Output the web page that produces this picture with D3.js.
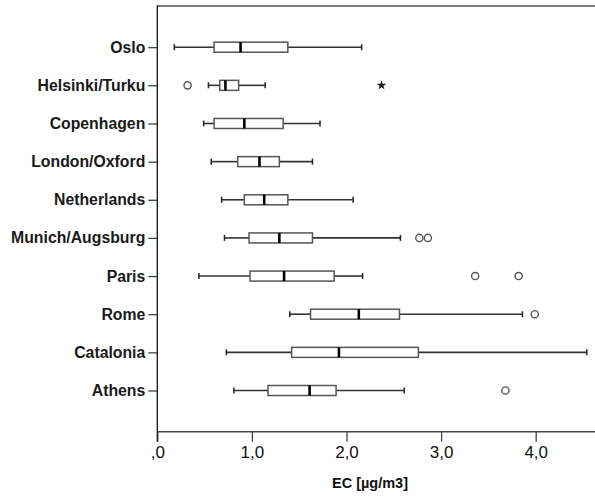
<!DOCTYPE html>
<html>
<head>
<meta charset="utf-8">
<script src="https://cdn.jsdelivr.net/npm/d3@7"></script>
<style>
  html, body { margin: 0; padding: 0; background: #fff; }
  svg { display: block; }
  text { font-family: "Liberation Sans", Arial, sans-serif; fill: #111; }
</style>
</head>
<body>
<svg id="chart" width="595" height="497"></svg>
<script>
// EC concentrations (µg/m3) per study area
const areas = ["Oslo", "Helsinki/Turku", "Copenhagen", "London/Oxford", "Netherlands",
               "Munich/Augsburg", "Paris", "Rome", "Catalonia", "Athens"];
const whiskerLow  = [0.18, 0.54, 0.49, 0.57, 0.68, 0.71, 0.44, 1.40, 0.73, 0.81];
const q1          = [0.60, 0.66, 0.60, 0.85, 0.92, 0.97, 0.98, 1.62, 1.42, 1.17];
const median      = [0.88, 0.72, 0.92, 1.08, 1.13, 1.29, 1.34, 2.13, 1.92, 1.61];
const q3          = [1.38, 0.86, 1.33, 1.29, 1.38, 1.64, 1.87, 2.56, 2.76, 1.89];
const whiskerHigh = [2.16, 1.14, 1.72, 1.64, 2.07, 2.57, 2.17, 3.86, 4.54, 2.61];
// Outliers (circle) and extreme values (star)
const outliers = [
  { area: "Helsinki/Turku", value: 0.32 },
  { area: "Munich/Augsburg", value: 2.77 },
  { area: "Munich/Augsburg", value: 2.86 },
  { area: "Paris", value: 3.36 },
  { area: "Paris", value: 3.82 },
  { area: "Rome", value: 3.99 },
  { area: "Athens", value: 3.68 }
];
const extremes = [
  { area: "Helsinki/Turku", value: 2.37 }
];
const xTicks = [0, 1, 2, 3, 4];
const xTickLabels = [",0", "1,0", "2,0", "3,0", "4,0"];
const xTitle = "EC [µg/m3]";

const svg = d3.select("#chart");
const plotLeft = 157.3, plotRight = 595, plotTop = 6, plotBottom = 431.7;

const x = d3.scaleLinear().domain([0, 4]).range([plotLeft, plotLeft + 4 * 94.6]);
const y = d3.scalePoint().domain(areas).range([plotTop, plotBottom]).padding(1.08);

const rows = areas.map((a, i) => ({
  area: a, lo: whiskerLow[i], q1: q1[i], med: median[i], q3: q3[i], hi: whiskerHigh[i]
}));

// frame: top border
svg.append("line")
  .attr("x1", plotLeft).attr("x2", plotRight).attr("y1", plotTop).attr("y2", plotTop)
  .attr("stroke", "#555").attr("stroke-width", 1.6);

// bottom axis
const xAxis = d3.axisBottom(x)
  .tickValues(xTicks)
  .tickFormat((d, i) => xTickLabels[i])
  .tickSize(10)
  .tickSizeOuter(0);
const gx = svg.append("g").attr("transform", `translate(0,${plotBottom})`).call(xAxis);
gx.select(".domain").remove();
gx.selectAll(".tick line").attr("stroke", "#444").attr("stroke-width", 1.3);
gx.selectAll(".tick text")
  .attr("y", 14).attr("dy", "0.71em")
  .style("font-size", "17px").style("fill", "#111");
svg.append("line")
  .attr("x1", plotLeft).attr("x2", plotRight).attr("y1", plotBottom).attr("y2", plotBottom)
  .attr("stroke", "#444").attr("stroke-width", 1.4);

// left axis
const yAxis = d3.axisLeft(y).tickSize(9).tickSizeOuter(0).tickPadding(3);
const gy = svg.append("g").attr("transform", `translate(${plotLeft},0)`).call(yAxis);
gy.select(".domain").remove();
gy.selectAll(".tick line").attr("stroke", "#333").attr("stroke-width", 1.2);
gy.selectAll(".tick text")
  .style("font-size", "15.8px").style("font-weight", "bold").style("fill", "#1a1a1a");
svg.append("line")
  .attr("x1", plotLeft).attr("x2", plotLeft).attr("y1", plotTop - 0.8).attr("y2", plotBottom + 10)
  .attr("stroke", "#222").attr("stroke-width", 1.4);

// axis title
svg.append("text")
  .attr("x", 370).attr("y", 488)
  .attr("text-anchor", "middle")
  .style("font-size", "14.5px").style("font-weight", "bold")
  .text(xTitle);

// boxes
const boxH = 10, capH = 6;
const g = svg.append("g");
const box = g.selectAll("g.box").data(rows).join("g").attr("class", "box");

box.append("line")
  .attr("x1", d => x(d.lo)).attr("x2", d => x(d.q1))
  .attr("y1", d => y(d.area)).attr("y2", d => y(d.area))
  .attr("stroke", "#333").attr("stroke-width", 1.6);
box.append("line")
  .attr("x1", d => x(d.q3)).attr("x2", d => x(d.hi))
  .attr("y1", d => y(d.area)).attr("y2", d => y(d.area))
  .attr("stroke", "#333").attr("stroke-width", 1.6);
box.append("line")
  .attr("x1", d => x(d.lo)).attr("x2", d => x(d.lo))
  .attr("y1", d => y(d.area) - capH / 2).attr("y2", d => y(d.area) + capH / 2)
  .attr("stroke", "#222").attr("stroke-width", 1.5);
box.append("line")
  .attr("x1", d => x(d.hi)).attr("x2", d => x(d.hi))
  .attr("y1", d => y(d.area) - capH / 2).attr("y2", d => y(d.area) + capH / 2)
  .attr("stroke", "#222").attr("stroke-width", 1.5);
box.append("rect")
  .attr("x", d => x(d.q1)).attr("width", d => x(d.q3) - x(d.q1))
  .attr("y", d => y(d.area) - boxH / 2).attr("height", boxH)
  .attr("fill", "#fff").attr("stroke", "#555").attr("stroke-width", 1.5);
box.append("line")
  .attr("x1", d => x(d.med)).attr("x2", d => x(d.med))
  .attr("y1", d => y(d.area) - boxH / 2).attr("y2", d => y(d.area) + boxH / 2)
  .attr("stroke", "#000").attr("stroke-width", 2.6);

// outliers
g.selectAll("circle.out").data(outliers).join("circle")
  .attr("class", "out")
  .attr("cx", d => x(d.value)).attr("cy", d => y(d.area))
  .attr("r", 3.6)
  .attr("fill", "#fff").attr("stroke", "#555").attr("stroke-width", 1.4);

// extreme values
g.selectAll("path.ext").data(extremes).join("path")
  .attr("class", "ext")
  .attr("transform", d => `translate(${x(d.value)},${y(d.area)})`)
  .attr("d", d3.symbol().type(d3.symbolStar).size(30))
  .attr("fill", "#222");
</script>
</body>
</html>
